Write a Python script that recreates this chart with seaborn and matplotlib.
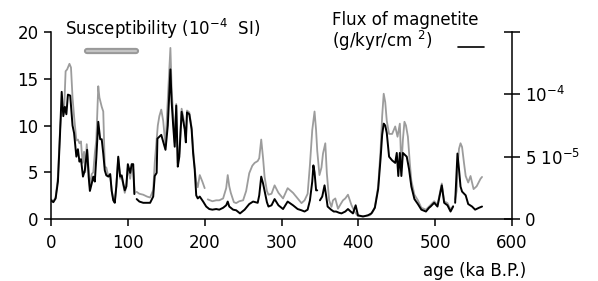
import numpy as np
import pandas as pd
import matplotlib
matplotlib.use("Agg")
import matplotlib.pyplot as plt
import seaborn as sns
from matplotlib.lines import Line2D
import matplotlib.patheffects as pe

# ---------------- data ----------------
# Susceptibility (10^-4 SI), grey line; None = gap
susc_age = [0, 3, 6, 9, 11.7, 14, 17, 19, 21, 24, 26, 28, 30, 33, 35, 37, 39, 41, 43, 44.5,
            46.5, 48, 50.5, 53, 55, 57, 59, 61.5, 63, 66, 68, 70, 72, 74.5, 77, 79, 81, 83, 85, 87.5,
            90, 92, 96, 98, 100, 103, 105, 107, 109, 110,
            111.5, 115, 120, 125, 129, 133, 135, 137.5, 139, 141, 143.5, 146, 149, 152, 155.4, 157,
            159, 161, 163, 165, 167, 170, 172, 174, 175.5, 177, 180, 183, 185, 187, 189, 191, 193.6,
            197, 200, 202,
            204, 210, 215, 219, 224, 228, 230, 232, 234, 238, 241, 245, 250, 254, 258, 262, 265, 269,
            271, 273.6, 276, 278, 281, 283, 287, 291, 296, 302, 308, 315, 321, 326, 330, 334, 337, 340,
            343, 345, 346.5, 349.4, 352, 354, 357, 359, 362, 365, 367, 370, 373.5, 377, 380, 383,
            386.5, 391, 395, 399.5, 404, 408, 415, 419, 421.5, 425.8, 429, 431, 433, 435, 437, 440,
            444, 448, 451, 454, 456, 458, 460, 462, 464.5, 467, 469, 473, 477.5, 482, 488, 494, 498.7,
            503, 508.6, 511.7, 516, 520, 523.4, 525,
            526, 528, 529, 531, 533, 535, 537.5, 539.7, 543, 546, 550, 554, 559, 561]
susc_val = [2.1, 1.9, 2.3, 4.5, 9.5, 12.0, 11.5, 15.8, 16.0, 16.6, 16.2, 13.0, 11.0, 8.4, 8.5, 8.1, 8.3, 6.0, 7.2, 5.0,
            8.0, 6.5, 3.5, 4.8, 5.0, 7.0, 8.5, 14.2, 13.0, 12.0, 11.5, 5.6, 5.5, 4.6, 4.8, 3.0, 2.2, 1.8, 3.5, 6.5,
            4.3, 4.5, 2.8, 3.5, 5.5, 4.3, 5.5, 5.3, 2.8, None,
            2.9, 2.7, 2.6, 2.4, 2.3, 3.1, 6.0, 8.5, 10.0, 11.0, 11.7, 10.5, 7.8, 12.8, 18.3, 14.0,
            11.0, 8.2, 12.3, 6.0, 7.0, 11.8, 11.0, 9.8, 8.5, 11.6, 11.4, 9.8, 7.5, 5.5, 4.0, 3.4, 4.7,
            4.0, 3.3, None,
            2.1, 1.9, 2.0, 2.0, 2.2, 3.3, 4.7, 3.5, 2.8, 1.8, 1.7, 1.9, 2.0, 3.0, 4.9, 5.7, 6.0, 6.2,
            6.5, 8.5, 6.5, 4.5, 3.0, 2.6, 2.7, 3.6, 2.8, 2.2, 3.3, 2.8, 2.2, 1.7, 2.0, 2.7, 5.8, 9.5,
            11.5, 9.5, 7.3, 4.7, 5.5, 7.0, 8.1, 4.9, 2.0, 1.3, 2.0, 2.2, 1.1, 1.6, 2.0, 2.2,
            2.6, 1.5, 0.8, 0.3, 0.3, 0.3, 0.4, 0.8, 1.3, 3.5, 7.5, 11.0, 13.4, 12.5, 10.5, 9.1,
            9.1, 9.9, 8.8, 10.2, 5.5, 8.5, 10.4, 10.0, 8.8, 6.0, 4.1, 2.6, 2.0, 1.2, 1.0, 1.5, 1.9,
            1.5, 3.8, 1.9, 1.7, 1.0, 1.4, None,
            2.1, 3.0, 5.3, 7.5, 8.1, 7.7, 6.0, 4.6, 3.9, 4.6, 3.2, 3.5, 4.3, 4.5]

# Flux of magnetite (10^-5 g/kyr/cm^2), black line; None = gap
flux_age = [0, 3, 6, 9, 11.7, 13.9, 16, 18, 20, 22, 25, 28, 30, 33, 35, 37, 39, 41.6, 44, 47,
            49, 50.6, 53, 55, 57, 59, 61.5, 64, 66, 68, 70, 72, 74.7, 77, 79, 81, 83, 85, 87.5, 90,
            92, 94, 96, 98, 100, 103, 105, 107, 108.5, 110,
            111.5, 115, 120, 125, 129, 133, 135, 137.5, 138.5, 141, 143.5, 146, 149, 152, 155.4, 157,
            159, 161, 163, 165, 167, 170, 172, 174, 175.5, 177, 180, 183, 185, 187, 189, 191, 193.6,
            198, 202, 206, 210, 215, 219, 224, 228, 230, 232, 237, 241, 243, 246, 252, 258, 263, 269,
            271, 273.6, 276, 278, 281, 283, 287, 291, 296, 302, 308, 315, 321, 326, 330, 334, 337, 340,
            341.5, 343, 345, 346.5, 348,
            350, 353, 356, 358, 360, 364.5, 368, 371, 375, 378, 383, 386.5, 390, 393, 396.5, 399.5,
            406, 412.6, 417, 421.5, 425.8, 429, 431, 433, 435, 437, 440, 444, 448, 450, 452, 454, 456,
            458, 463, 466, 469, 473, 477.5, 482, 488, 492, 494, 498.7, 503, 508.6, 511.7, 516, 520,
            523.4, 525,
            526, 529, 531, 533, 535, 539.7, 543, 548, 552, 557, 561]
flux_val = [1.5, 1.35, 1.65, 3.0, 6.75, 10.2, 8.25, 9.0, 8.4, 9.98, 9.9, 7.5, 6.9, 5.0, 5.6, 4.6, 4.8, 3.4, 3.9, 5.55,
            3.4, 2.25, 2.85, 3.4, 3.0, 4.95, 7.8, 6.4, 6.4, 5.25, 3.9, 3.5, 3.4, 3.6, 2.25, 1.5, 1.3, 2.6, 5.0, 3.4,
            3.5, 2.85, 2.3, 2.6, 4.4, 3.7, 4.4, 4.4, 2.0, None,
            1.6, 1.4, 1.3, 1.3, 1.3, 1.8, 3.45, 3.7, 6.45, 6.6, 6.75, 6.2, 5.55, 7.5, 12.0, 9.4,
            7.5, 5.8, 9.1, 4.2, 5.0, 8.6, 7.9, 7.2, 6.15, 8.55, 8.4, 7.2, 5.25, 4.0, 1.9, 1.65, 1.8,
            1.4, 1.0, 0.8, 0.75, 0.8, 0.75, 0.9, 1.1, 1.4, 1.0, 0.75, 0.7, 0.6, 0.45, 0.75, 1.2, 1.4, 1.3,
            1.9, 3.4, 2.85, 2.25, 1.35, 1.0, 1.1, 1.6, 1.1, 0.8, 1.4, 1.1, 0.8, 0.7, 0.6, 0.75, 1.5, 3.0,
            4.3, 3.75, 2.3, 2.3, None,
            1.5, 1.8, 2.7, 1.9, 1.0, 0.75, 0.6, 0.6, 0.5, 0.45, 0.6, 0.8, 0.6, 0.45, 1.1, 0.3,
            0.2, 0.3, 0.45, 0.9, 2.4, 4.9, 6.75, 7.65, 7.5, 6.9, 5.0, 4.7, 4.5, 5.3, 3.45, 5.3, 3.45,
            5.3, 5.0, 4.0, 2.6, 1.6, 1.2, 0.75, 0.6, 0.9, 1.0, 1.3, 1.0, 2.7, 1.3, 1.1, 0.6,
            1.0, None,
            1.3, 5.25, 4.0, 2.6, 2.2, 1.9, 1.2, 1.0, 0.75, 0.9, 1.0]

x_ticks = [0, 100, 200, 300, 400, 500, 600]
left_ticks = [0, 5, 10, 15, 20]
right_ticks = [0, 5, 10, 15]
right_tick_labels = ["0", "5 10$^{-5}$", "10$^{-4}$", ""]


def to_frame(age, val):
    df = pd.DataFrame({"age": age, "val": pd.array(val, dtype="float")})
    df["seg"] = df["val"].isna().cumsum()
    return df.dropna()


susc_df = to_frame(susc_age, susc_val)
flux_df = to_frame(flux_age, flux_val)

# ---------------- style ----------------
sns.set_style("ticks")
plt.rcParams["font.family"] = ["DejaVu Sans"]
plt.rcParams["font.size"] = 12
for k in ["text.color", "axes.labelcolor", "xtick.color", "ytick.color", "axes.edgecolor"]:
    plt.rcParams[k] = "black"

FS = 12
GREY = "#9c9c9c"

fig = plt.figure(figsize=(5.98, 2.81), dpi=100)
ax = fig.add_axes([0.0853, 0.2206, 0.7709, 0.6655])
ax2 = ax.twinx()

sns.lineplot(data=susc_df, x="age", y="val", units="seg", estimator=None,
             color=GREY, lw=1.3, ax=ax, legend=False)
sns.lineplot(data=flux_df, x="age", y="val", units="seg", estimator=None,
             color="black", lw=1.4, ax=ax2, legend=False)

ax.set_xlim(0, 600)
ax.set_ylim(0, 20)
ax2.set_ylim(0, 15)
ax.set_xticks(x_ticks)
ax.set_yticks(left_ticks)
ax2.set_yticks(right_ticks)
ax2.set_yticklabels(right_tick_labels)
ax.set_ylabel("")
ax2.set_ylabel("")

for a in (ax, ax2):
    a.spines["top"].set_visible(False)
    for s in a.spines.values():
        s.set_linewidth(1.1)
ax.spines["right"].set_visible(False)
ax2.spines["left"].set_visible(False)
ax2.spines["bottom"].set_visible(False)

ax.tick_params(axis="x", direction="out", length=5, width=1.1, labelsize=FS, pad=6)
ax.tick_params(axis="y", direction="out", length=5, width=1.1, labelsize=FS, pad=4)
ax2.tick_params(axis="y", direction="inout", length=12, width=1.1, labelsize=FS, pad=3)

ax.set_xlabel("age (ka B.P.)", fontsize=FS)
ax.xaxis.set_label_coords(0.918, -0.228)

# legend-like annotations
fig.text(0.109, 0.897, "Susceptibility (10$^{-4}$  SI)", fontsize=FS, ha="left", va="center")
leg_grey = Line2D([0.145, 0.228], [0.82, 0.82], transform=fig.transFigure, color="#c4c4c4", lw=1.6,
                  path_effects=[pe.Stroke(linewidth=4.5, foreground="#999999"), pe.Normal()])
fig.add_artist(leg_grey)

fig.text(0.555, 0.929, "Flux of magnetite", fontsize=FS, ha="left", va="center")
fig.text(0.555, 0.853, "(g/kyr/cm $^{2}$)", fontsize=FS, ha="left", va="center")
fig.add_artist(Line2D([0.766, 0.81], [0.832, 0.832], transform=fig.transFigure, color="black", lw=1.2))

fig.savefig("out.png", dpi=100)
